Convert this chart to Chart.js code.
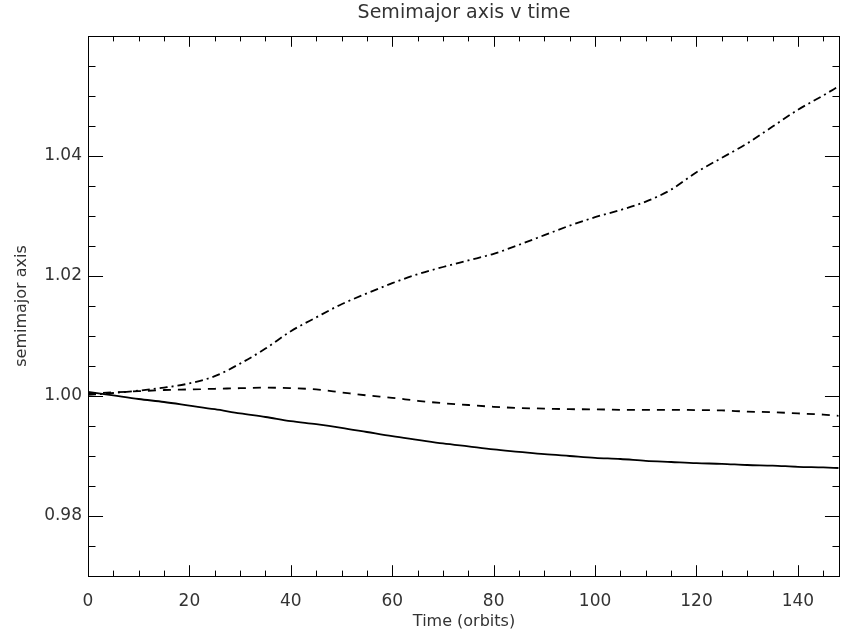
<!DOCTYPE html>
<html><head><meta charset="utf-8">
<script src="https://cdn.jsdelivr.net/npm/chart.js@4/dist/chart.umd.min.js"></script>
<style>html,body{margin:0;padding:0;background:#fff;} #wrap{width:841px;height:633px;position:relative;}</style>
</head><body><div id="wrap"><canvas id="c"></canvas></div>
<script>
const time    = [0,5,10,15,20,25,30,35,40,45,50,55,60,65,70,75,80,85,90,95,100,105,110,115,120,125,130,135,140,145,148];
const solid   = [1.0007,1.0001,0.9995,0.9990,0.9984,0.9978,0.9971,0.9965,0.9958,0.9953,0.9947,0.9940,0.9933,0.9927,0.9921,0.9916,0.9911,0.9907,0.9903,0.9900,0.9897,0.9895,0.9892,0.9890,0.9888,0.9887,0.9885,0.9884,0.9882,0.9881,0.9880];
const dashed  = [1.0004,1.0006,1.0008,1.0010,1.0011,1.0012,1.0013,1.0014,1.0013,1.0011,1.0006,1.0001,0.9997,0.9992,0.9988,0.9985,0.9982,0.9980,0.9979,0.9978,0.99778,0.9977,0.9977,0.9977,0.99765,0.9976,0.9974,0.9973,0.9971,0.9969,0.9967];
const dashDot = [1.0002,1.0005,1.0009,1.0014,1.0021,1.0033,1.0054,1.0079,1.0108,1.0131,1.0153,1.0171,1.0188,1.0203,1.0215,1.0226,1.0237,1.0252,1.0268,1.0284,1.0298,1.0310,1.0324,1.0344,1.0373,1.0397,1.0421,1.0449,1.0477,1.0501,1.0516];
const xTicks = [0,20,40,60,80,100,120,140];
const yTicks = [0.98,1.00,1.02,1.04];
const xMinorStep = 5, yMinorStep = 0.005;
const xMin = 0, xMax = 148.3, yMin = 0.97, yMax = 1.06;

const pts = ys => time.map((t,i)=>({x:t,y:ys[i]}));
const FONT = '"DejaVu Sans", sans-serif';
const TXT = '#333';

const idlTicks = {
  id:'idlTicks',
  afterDraw(chart){
    const {ctx, chartArea:a, scales:{x,y}} = chart;
    ctx.save();
    ctx.strokeStyle = '#000'; ctx.lineWidth = 1;
    ctx.strokeRect(Math.round(a.left)+0.5, Math.round(a.top)+0.5, Math.round(a.right-a.left)-1, Math.round(a.bottom-a.top));
    const xMaj = 0.02*(a.bottom-a.top), yMaj = 0.02*(a.right-a.left);
    ctx.beginPath();
    for (let v = xMin; v <= xMax+1e-9; v += xMinorStep){
      const p = Math.round(x.getPixelForValue(v))+0.5;
      const len = (Math.abs(v/20-Math.round(v/20))<1e-6) ? xMaj : xMaj/2;
      ctx.moveTo(p, a.bottom); ctx.lineTo(p, a.bottom-len);
      ctx.moveTo(p, a.top); ctx.lineTo(p, a.top+len);
    }
    for (let k = 0; ; k++){
      const v = yMin + k*yMinorStep; if (v > yMax+1e-9) break;
      const p = Math.round(y.getPixelForValue(v))+0.5;
      const r = v/0.02;
      const len = (Math.abs(r-Math.round(r))<1e-6) ? yMaj : yMaj/2;
      ctx.moveTo(a.left, p); ctx.lineTo(a.left+len, p);
      ctx.moveTo(a.right, p); ctx.lineTo(a.right-len, p);
    }
    ctx.stroke();
    ctx.restore();
  }
};

new Chart(document.getElementById('c'), {
  type:'line',
  data:{datasets:[
    {data:pts(solid), borderColor:'#000', borderWidth:1.8, pointRadius:0, cubicInterpolationMode:'monotone'},
    {data:pts(dashed), borderColor:'#000', borderWidth:1.8, borderDash:[8,7], pointRadius:0, cubicInterpolationMode:'monotone'},
    {data:pts(dashDot), borderColor:'#000', borderWidth:1.8, borderDash:[8,4,2,4], pointRadius:0, cubicInterpolationMode:'monotone'}
  ]},
  options:{
    responsive:true, maintainAspectRatio:false, animation:false,
    layout:{padding:0},
    plugins:{legend:{display:false}, tooltip:{enabled:false}, title:{display:false}},
    scales:{
      x:{type:'linear', position:'bottom', min:xMin, max:xMax,
        afterBuildTicks: s => { s.ticks = xTicks.map(v=>({value:v})); },
        afterFit: s => { s.height = 57; },
        grid:{display:false, drawTicks:false}, border:{display:false},
        ticks:{color:TXT, font:{family:FONT, size:17}, padding:15, maxRotation:0, autoSkip:false, callback:v=>String(v)},
        title:{display:true, text:'Time (orbits)', color:TXT, font:{family:FONT, size:16}, padding:{top:0,bottom:2}}},
      x2:{type:'linear', position:'top', min:xMin, max:xMax,
        afterFit: s => { s.height = 36; },
        grid:{display:false, drawTicks:false}, border:{display:false},
        ticks:{display:false},
        title:{display:true, text:'Semimajor axis v time', color:TXT, font:{family:FONT, size:19}, padding:{top:2,bottom:0}}},
      y:{type:'linear', position:'left', min:yMin, max:yMax,
        afterBuildTicks: s => { s.ticks = yTicks.map(v=>({value:v})); },
        afterFit: s => { s.width = 88; },
        grid:{display:false, drawTicks:false}, border:{display:false},
        ticks:{color:TXT, font:{family:FONT, size:17}, padding:6, callback:v=>Number(v).toFixed(2)},
        title:{display:true, text:'semimajor axis', color:TXT, font:{family:FONT, size:16}, padding:{top:12,bottom:0}}},
      y2:{type:'linear', position:'right', min:yMin, max:yMax,
        afterFit: s => { s.width = 1; },
        grid:{display:false, drawTicks:false}, border:{display:false},
        ticks:{display:false}}
    }
  },
  plugins:[idlTicks]
});
</script></body></html>
